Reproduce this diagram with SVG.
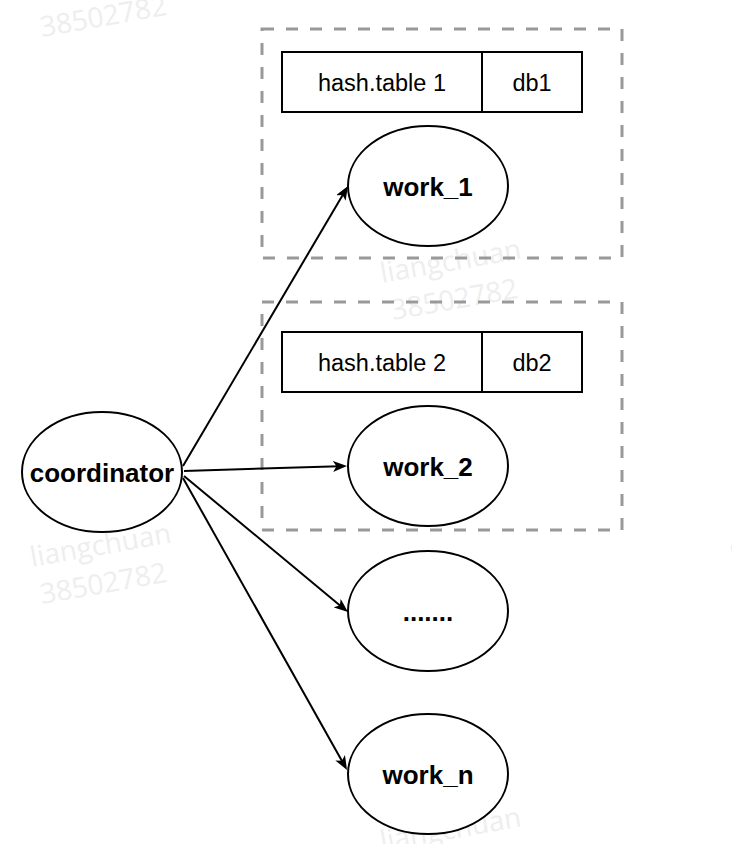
<svg xmlns="http://www.w3.org/2000/svg" width="732" height="844" viewBox="0 0 732 844">
  <style>
    .wm { font-family: "Open Sans", "Noto Sans", sans-serif; font-size: 28px; fill: #eeeeee; }
    .group-box { fill: none; stroke: #999999; stroke-width: 3; stroke-dasharray: 12 12; }
    .cell { fill: #ffffff; stroke: #000000; stroke-width: 2; }
    .node { fill: #ffffff; stroke: #000000; stroke-width: 2; }
    .cell-text { font-family: "Liberation Sans", Arial, sans-serif; font-size: 23.5px; fill: #000000; text-anchor: middle; }
    .node-text { font-family: "Liberation Sans", Arial, sans-serif; font-size: 26px; font-weight: bold; fill: #000000; text-anchor: middle; }
    .edge { fill: none; stroke: #000000; stroke-width: 2; marker-end: url(#arrow); }
  </style>
  <defs>
    <marker id="arrow" viewBox="0 0 14 11" refX="6" refY="5.5" markerWidth="14" markerHeight="11" markerUnits="userSpaceOnUse" orient="auto">
      <path d="M0,0 L14,5.5 L0,11 L3.5,5.5 Z" fill="#000000"/>
    </marker>
  </defs>

  <rect width="732" height="844" fill="#ffffff"/>

  <!-- watermark tiles, repeated on a lattice and clipped by the page edges -->
  <g id="watermark">
    <text class="wm" transform="translate(42,37) rotate(-10)">38502782</text>
    <text class="wm" transform="translate(382,283) rotate(-10)">liangchuan</text>
    <text class="wm" transform="translate(393,320) rotate(-10)">38502782</text>
    <text class="wm" transform="translate(32,567) rotate(-10)">liangchuan</text>
    <text class="wm" transform="translate(42,604) rotate(-10)">38502782</text>
    <text class="wm" transform="translate(732,567) rotate(-10)">liangchuan</text>
    <text class="wm" transform="translate(382,851) rotate(-10)">liangchuan</text>
  </g>

  <!-- shard 1 -->
  <g id="shard1">
    <rect class="group-box" x="262" y="29" width="360" height="229"/>
    <g id="table1">
      <rect class="cell" x="282" y="52" width="200" height="60"/>
      <text class="cell-text" x="382" y="91">hash.table 1</text>
      <rect class="cell" x="482" y="52" width="100" height="60"/>
      <text class="cell-text" x="532" y="91">db1</text>
    </g>
    <g id="work_1">
      <ellipse class="node" cx="428" cy="186" rx="80" ry="60"/>
      <text class="node-text" x="428" y="196">work_1</text>
    </g>
  </g>

  <!-- shard 2 -->
  <g id="shard2">
    <rect class="group-box" x="262" y="302" width="360" height="228"/>
    <g id="table2">
      <rect class="cell" x="282" y="332" width="200" height="60"/>
      <text class="cell-text" x="382" y="371">hash.table 2</text>
      <rect class="cell" x="482" y="332" width="100" height="60"/>
      <text class="cell-text" x="532" y="371">db2</text>
    </g>
    <g id="work_2">
      <ellipse class="node" cx="428" cy="466" rx="80" ry="60"/>
      <text class="node-text" x="428" y="476">work_2</text>
    </g>
  </g>

  <g id="work_more">
    <ellipse class="node" cx="428" cy="611" rx="80" ry="60"/>
    <text class="node-text" x="428" y="621">.......</text>
  </g>

  <g id="work_n">
    <ellipse class="node" cx="428" cy="774" rx="80" ry="60"/>
    <text class="node-text" x="428" y="784">work_n</text>
  </g>

  <g id="coordinator">
    <ellipse class="node" cx="102" cy="472" rx="80" ry="60"/>
    <text class="node-text" x="102" y="482">coordinator</text>
  </g>

  <!-- connectors -->
  <g id="edges">
    <path class="edge" d="M183,466 L343.9,192.9"/>
    <path class="edge" d="M184,471 L339,466.2"/>
    <path class="edge" d="M184,476 L341.8,606.9"/>
    <path class="edge" d="M183,478 L343.1,763"/>
  </g>
</svg>
